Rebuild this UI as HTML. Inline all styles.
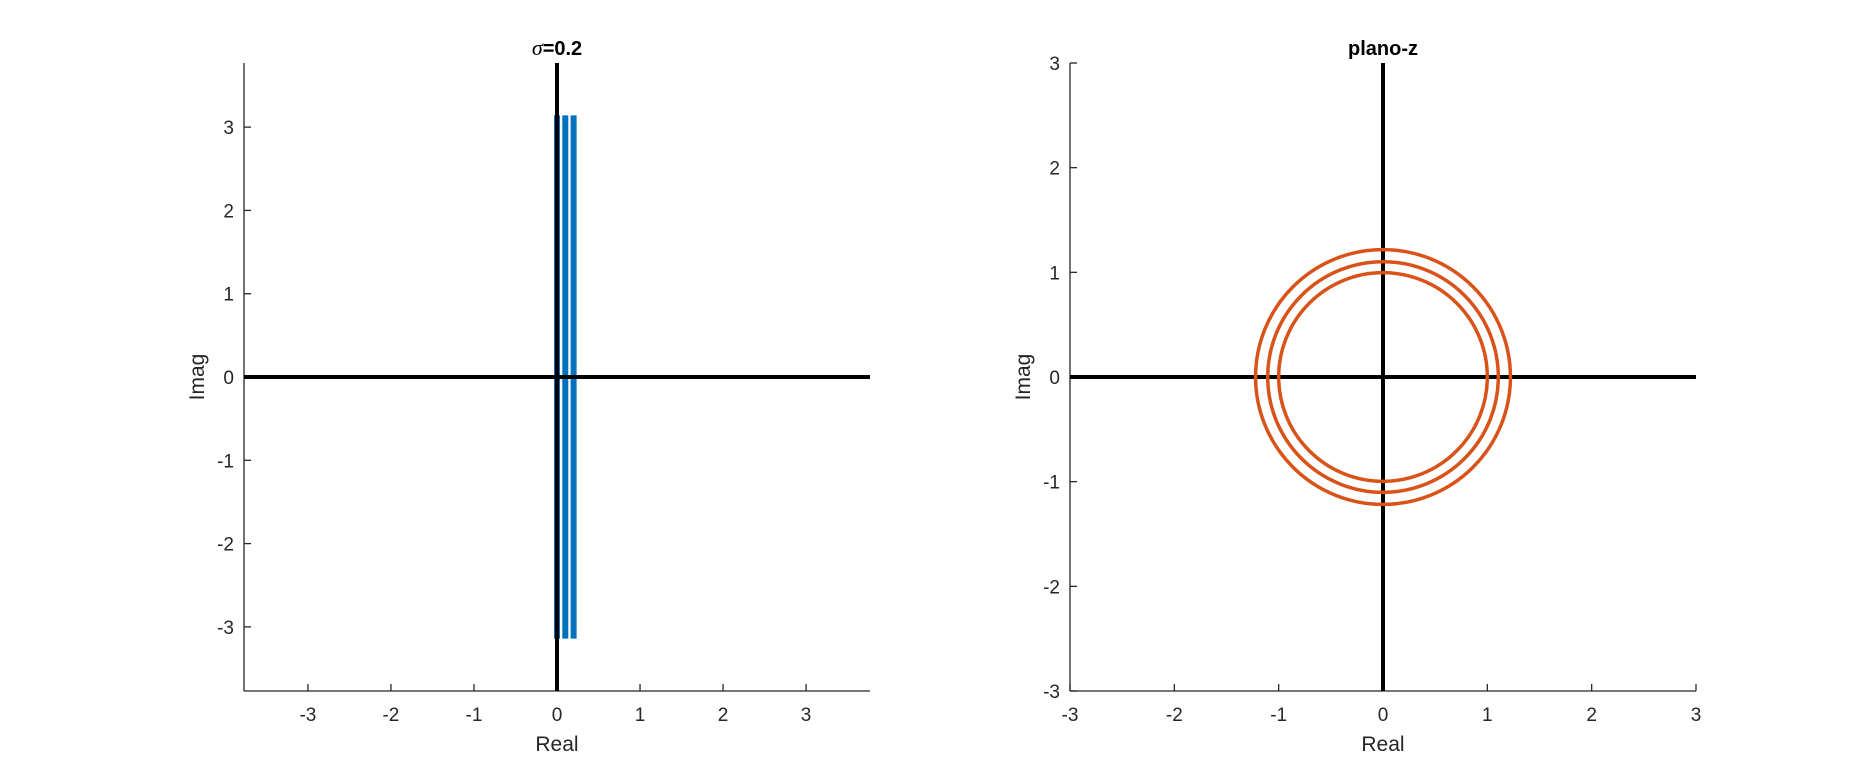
<!DOCTYPE html>
<html><head><meta charset="utf-8"><style>
body{margin:0;background:#fff;}
svg{display:block;font-family:"Liberation Sans",Arial,sans-serif;}
.tick{font-size:19px;fill:#262626;}
.lab{font-size:21px;fill:#262626;}
</style></head><body>
<svg id="fig" width="1875" height="781" viewBox="0 0 1875 781"></svg>
<script>
const NS='http://www.w3.org/2000/svg';
const leftTicks=[-3,-2,-1,0,1,2,3];
const rightTicks=[-3,-2,-1,0,1,2,3];
const sigmaValues=[0,0.1,0.2];
const stripHalfHeight=Math.PI;
const leftLimit=1.2*Math.PI;
const circleRadii=[1,Math.exp(0.1),Math.exp(0.2)];
const rightLimit=3;
const svg=document.getElementById('fig');
function mk(tag,attrs,parent){const e=document.createElementNS(NS,tag);for(const k in attrs)e.setAttribute(k,attrs[k]);(parent||svg).appendChild(e);return e;}
function axes(name,x0,x1,y0,y1,lim,ticks,title,italicSigma){
  const g=mk('g',{});
  
  
  const sx=v=>x0+(v+lim)/(2*lim)*(x1-x0);
  const sy=v=>y1-(v+lim)/(2*lim)*(y1-y0);
  const xa=mk('line',{x1:x0,y1:y1,x2:x1,y2:y1,stroke:'#262626','stroke-width':1.3},g);
  
  
  const ya=mk('line',{x1:x0,y1:y0,x2:x0,y2:y1,stroke:'#262626','stroke-width':1.3},g);
  
  
  ticks.forEach(t=>{
    mk('line',{x1:sx(t),y1:y1,x2:sx(t),y2:y1-7,stroke:'#262626','stroke-width':1.3},g);
    const tx=mk('text',{x:sx(t),y:y1+30,'text-anchor':'middle',class:'tick'},g);tx.textContent=t;
    
    
    mk('line',{x1:x0,y1:sy(t),x2:x0+7,y2:sy(t),stroke:'#262626','stroke-width':1.3},g);
    const ty=mk('text',{x:x0-10,y:sy(t)+7,'text-anchor':'end',class:'tick'},g);ty.textContent=t;
    
    
  });
  const xl=mk('text',{x:(x0+x1)/2,y:y1+60,'text-anchor':'middle',class:'lab'},g);xl.textContent='Real';
  
  
  const yl=mk('text',{x:0,y:0,'text-anchor':'middle',class:'lab',transform:`translate(${x0-40},${(y0+y1)/2}) rotate(-90)`},g);yl.textContent='Imag';
  
  
  const tt=mk('text',{x:(x0+x1)/2,y:y0-8,'text-anchor':'middle','font-size':20,'font-weight':'bold',fill:'#000'},g);
  if(italicSigma){const s=mk('tspan',{'font-family':'Liberation Serif,serif','font-style':'italic','font-weight':'normal','font-size':22},tt);s.textContent='σ';const r=mk('tspan',{},tt);r.textContent='=0.2';}
  else tt.textContent=title;
  
  
  return {g,sx,sy};
}
// left
const L=axes('left-panel',244,870,63,691,leftLimit,leftTicks,'',true);
sigmaValues.forEach(s=>{
  const l=mk('line',{x1:L.sx(s),y1:L.sy(stripHalfHeight),x2:L.sx(s),y2:L.sy(-stripHalfHeight),stroke:'#0072BD','stroke-width':6},L.g);
  
  
});
let a=mk('line',{x1:L.sx(-leftLimit),y1:L.sy(0),x2:L.sx(leftLimit),y2:L.sy(0),stroke:'#000','stroke-width':4},L.g);


a=mk('line',{x1:L.sx(0),y1:L.sy(leftLimit),x2:L.sx(0),y2:L.sy(-leftLimit),stroke:'#000','stroke-width':4},L.g);


// right
const R=axes('right-panel',1070,1696,63,691,rightLimit,rightTicks,'plano-z',false);
a=mk('line',{x1:R.sx(-rightLimit),y1:R.sy(0),x2:R.sx(rightLimit),y2:R.sy(0),stroke:'#000','stroke-width':4},R.g);


a=mk('line',{x1:R.sx(0),y1:R.sy(rightLimit),x2:R.sx(0),y2:R.sy(-rightLimit),stroke:'#000','stroke-width':4},R.g);


circleRadii.forEach(r=>{
  const c=mk('circle',{cx:R.sx(0),cy:R.sy(0),r:R.sx(r)-R.sx(0),fill:'none',stroke:'#D95319','stroke-width':3.5},R.g);
  
  
});
</script>
</body></html>
